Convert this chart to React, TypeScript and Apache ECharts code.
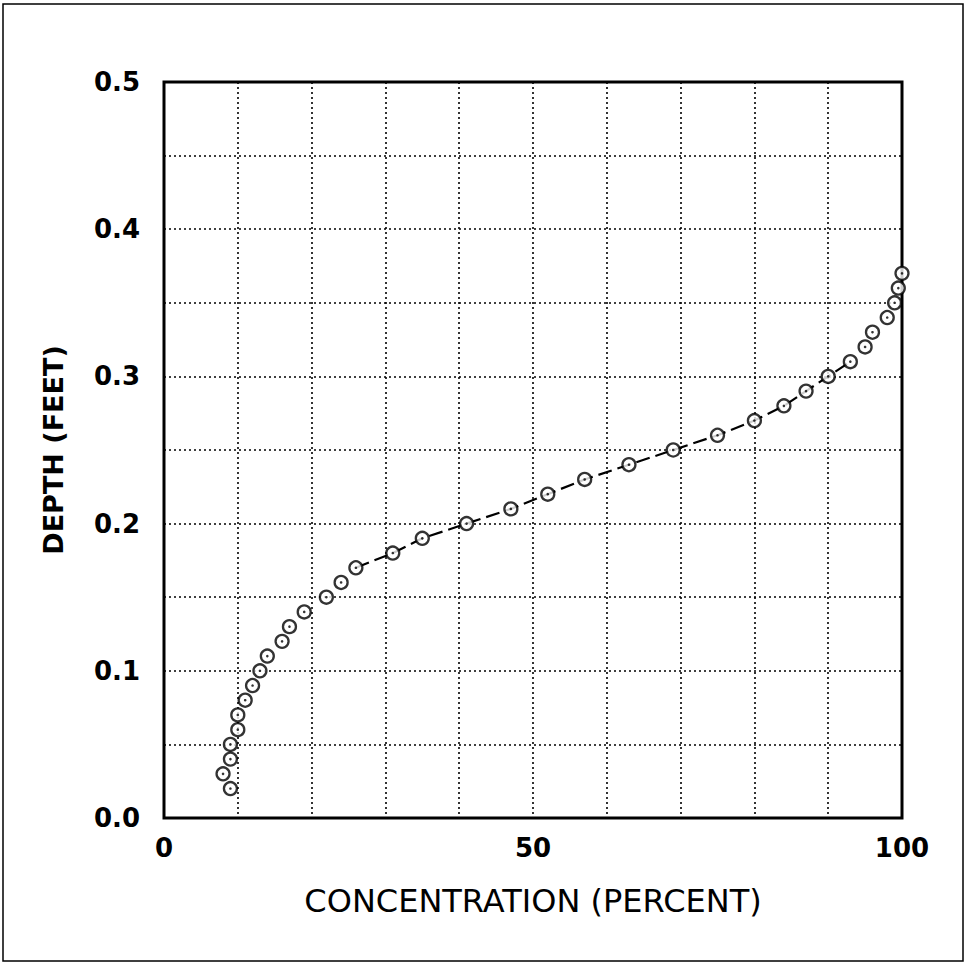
import React, { useEffect, useRef } from "react";
import * as echarts from "echarts";

const depthFeet: number[] = [
  0.02, 0.03, 0.04, 0.05, 0.06, 0.07, 0.08, 0.09, 0.1, 0.11, 0.12, 0.13,
  0.14, 0.15, 0.16, 0.17, 0.18, 0.19, 0.2, 0.21, 0.22, 0.23, 0.24, 0.25,
  0.26, 0.27, 0.28, 0.29, 0.3, 0.31, 0.32, 0.33, 0.34, 0.35, 0.36, 0.37,
];
const concentrationPct: number[] = [
  9, 8, 9, 9, 10, 10, 11, 12, 13, 14, 16, 17,
  19, 22, 24, 26, 31, 35, 41, 47, 52, 57, 63, 69,
  75, 80, 84, 87, 90, 93, 95, 96, 98, 99, 99.5, 100,
];
const xTickLabels: number[] = [0, 50, 100];
const yTickLabels: number[] = [0, 0.1, 0.2, 0.3, 0.4, 0.5];
const xTitle = "CONCENTRATION (PERCENT)";
const yTitle = "DEPTH (FEET)";
// connecting line visible between these depths in the original
const lineFrom = 0.17;
const lineTo = 0.31;

export default function App() {
  const ref = useRef<HTMLDivElement>(null);
  useEffect(() => {
    document.body.style.margin = "0";
    const chart = echarts.init(ref.current!, undefined, { renderer: "svg" });
    const pts = depthFeet.map((d, i) => [concentrationPct[i], d]);
    const linePts = pts.filter((p) => p[1] >= lineFrom - 1e-9 && p[1] <= lineTo + 1e-9);
    const font = "DejaVu Sans";
    chart.setOption({
      animation: false,
      backgroundColor: "#fff",
      grid: {
        left: 164,
        right: 65,
        top: 82,
        bottom: 146,
        show: true,
        borderColor: "#000",
        borderWidth: 3,
        backgroundColor: "transparent",
      },
      xAxis: {
        type: "value",
        min: 0,
        max: 100,
        interval: 10,
        name: xTitle,
        nameLocation: "middle",
        nameGap: 67,
        nameTextStyle: { fontFamily: font, fontSize: 32, color: "#000" },
        axisLine: { show: false },
        axisTick: { show: false },
        axisLabel: {
          margin: 17,
          fontFamily: font,
          fontWeight: "bold",
          fontSize: 26,
          color: "#000",
          formatter: (v: number) =>
            xTickLabels.some((t) => Math.abs(t - v) < 1e-6) ? String(v) : "",
        },
        splitLine: { show: true, lineStyle: { color: "#000", width: 1.6, type: [2, 3] } },
      },
      yAxis: {
        type: "value",
        min: 0,
        max: 0.5,
        interval: 0.05,
        name: yTitle,
        nameLocation: "middle",
        nameRotate: 90,
        nameGap: 97,
        nameTextStyle: { fontFamily: font, fontWeight: "bold", fontSize: 27, color: "#000" },
        axisLine: { show: false },
        axisTick: { show: false },
        axisLabel: {
          margin: 24,
          fontFamily: font,
          fontWeight: "bold",
          fontSize: 26,
          color: "#000",
          formatter: (v: number) =>
            yTickLabels.some((t) => Math.abs(t - v) < 1e-6) ? v.toFixed(1) : "",
        },
        splitLine: { show: true, lineStyle: { color: "#000", width: 1.6, type: [2, 3] } },
      },
      series: [
        {
          type: "line",
          data: linePts,
          showSymbol: false,
          symbol: "none",
          lineStyle: { color: "#000", width: 2.2, type: [14, 6] },
          z: 2,
        },
        {
          type: "scatter",
          data: pts,
          symbol: "circle",
          symbolSize: 13,
          itemStyle: { color: "#fff", borderColor: "#000", borderWidth: 2.3 },
          z: 3,
        },
        {
          type: "scatter",
          data: pts,
          symbol: "circle",
          symbolSize: 2.6,
          itemStyle: { color: "#000" },
          z: 4,
        },
      ],
      graphic: [
        {
          type: "rect",
          shape: { x: 3, y: 4, width: 960, height: 957 },
          style: { fill: "none", stroke: "#000", lineWidth: 1.5 },
          silent: true,
        },
      ],
    });
    return () => chart.dispose();
  }, []);
  return (
    <div
      ref={ref}
      style={{ position: "absolute", left: 0, top: 0, width: 967, height: 964 }}
    />
  );
}
